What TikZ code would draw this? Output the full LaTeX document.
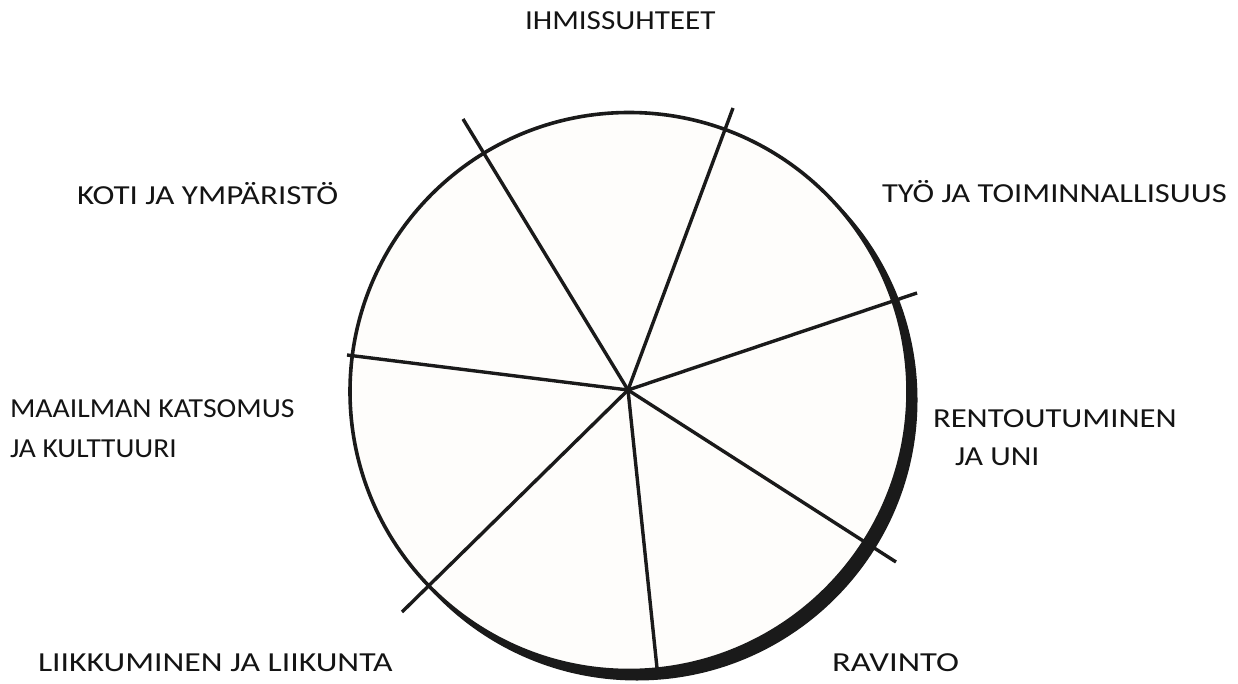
\documentclass[tikz,border=0pt]{standalone}
\usepackage{fontspec}
\setmainfont[FakeStretch=1.15]{Carlito}
\definecolor{linecol}{RGB}{26,26,26}
\definecolor{offwhite}{RGB}{254,253,251}
\definecolor{txtcol}{RGB}{20,20,20}
\newcommand{\hstretch}[2]{\scalebox{#1}[1]{#2}}
\begin{document}
\begin{tikzpicture}[x=1pt,y=-1pt,
  spoke/.style={draw=linecol,line width=3.4pt},
  lbl/.style={anchor=base west,inner sep=0pt,outer sep=0pt,text=txtcol,font=\fontsize{27.5}{33}\selectfont}]
\useasboundingbox (0,0) rectangle (1238,684);
\fill[white] (0,0) rectangle (1238,684);
% circle with shadow crescent
\coordinate (C) at (629,391.5);
\coordinate (S) at (637,400);
\fill[linecol] (S) circle (280.5);
\filldraw[fill=offwhite,draw=linecol,line width=3.6pt] (C) circle (279);
% spokes
\coordinate (hub) at (628,390);
\coordinate (e1) at (463,119);
\coordinate (e2) at (733,108);
\coordinate (e3) at (917,293);
\coordinate (e4) at (896,562);
\coordinate (e5) at (657,668);
\coordinate (e6) at (402,612);
\coordinate (e7) at (347,355);
\foreach \e in {e1,e2,e3,e4,e5,e6,e7} \draw[spoke] (hub) -- (\e);
% labels
\node[lbl] (l1) at (525,29.3) {\hstretch{0.985}{IHMISSUHTEET}};
\node[lbl] (l2) at (77,205) {\hstretch{1.044}{KOTI JA YMPÄRISTÖ}};
\node[lbl] (l3) at (882,202.7) {\hstretch{1.03}{TYÖ JA TOIMINNALLISUUS}};
\node[lbl] (l4) at (933,427) {\hstretch{1.034}{RENTOUTUMINEN}};
\node[lbl] (l5) at (955,465) {\hstretch{1.01}{JA UNI}};
\node[lbl] (l6) at (10,417) {\hstretch{0.94}{MAAILMAN KATSOMUS}};
\node[lbl] (l7) at (10,457) {\hstretch{0.93}{JA KULTTUURI}};
\node[lbl] (l8) at (38,671) {\hstretch{1.066}{LIIKKUMINEN JA LIIKUNTA}};
\node[lbl] (l9) at (832,671) {\hstretch{1.096}{RAVINTO}};
\end{tikzpicture}
\end{document}
